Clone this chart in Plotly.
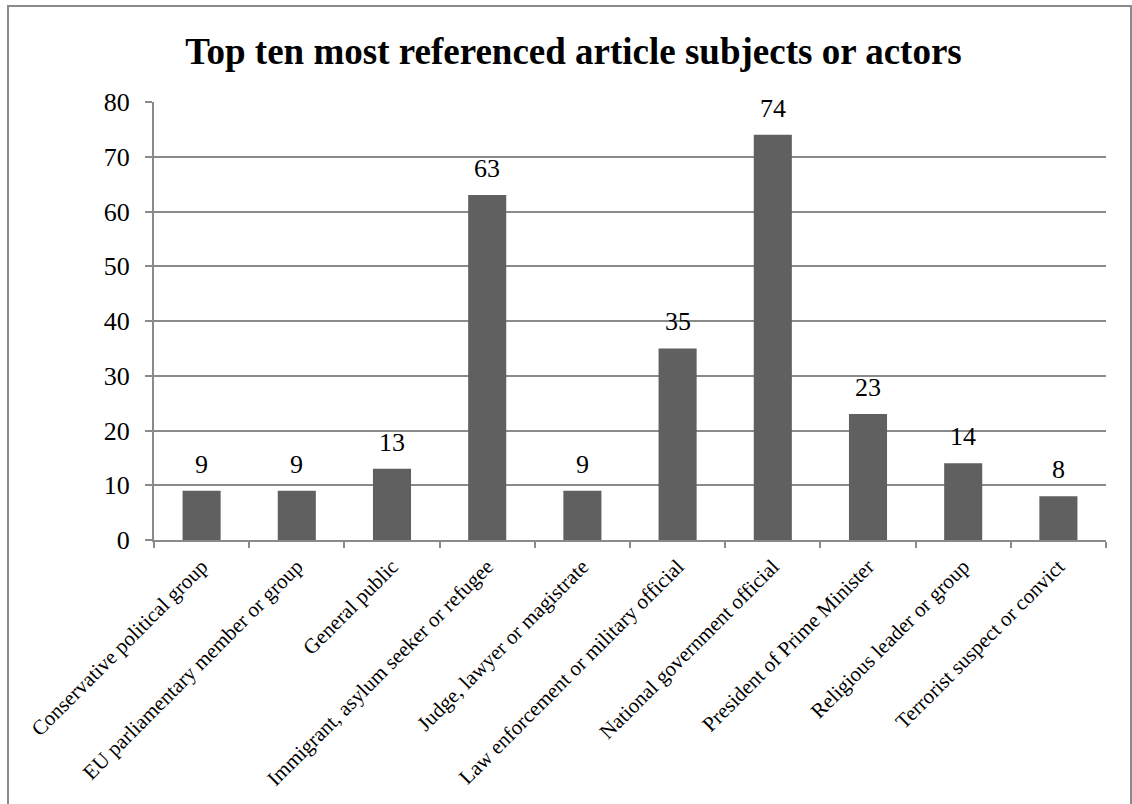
import plotly.graph_objects as go

categories = [
    "Conservative political group",
    "EU parliamentary member or group",
    "General public",
    "Immigrant, asylum seeker or refugee",
    "Judge, lawyer or magistrate",
    "Law enforcement or military official",
    "National government official",
    "President of Prime Minister",
    "Religious leader or group",
    "Terrorist suspect or convict",
]
values = [9, 9, 13, 63, 9, 35, 74, 23, 14, 8]
y_ticks = [0, 10, 20, 30, 40, 50, 60, 70, 80]
title_text = "Top ten most referenced article subjects or actors"

FONT = "Times New Roman, Liberation Serif, serif"
GRID = "#8a8a8a"
W, H = 1132, 804
L, R, T, B = 154, 26, 102, 264
pw, ph = W - L - R, H - T - B

fig = go.Figure()
fig.add_trace(go.Bar(
    x=categories, y=values,
    marker=dict(color="#606060", line=dict(width=0)),
    width=0.4,
    hoverinfo="x+y",
))

for c, v in zip(categories, values):
    fig.add_annotation(x=c, y=v, text=str(v), showarrow=False,
                       yanchor="bottom", yshift=10,
                       font=dict(family=FONT, size=26, color="black"))

def px_to_paper_x(px):
    return (px - L) / pw

def px_to_paper_y(py):
    return (H - B - py) / ph

fig.add_shape(type="rect", xref="paper", yref="paper",
              x0=px_to_paper_x(8), x1=px_to_paper_x(1131),
              y0=px_to_paper_y(810), y1=px_to_paper_y(6),
              line=dict(color="#8a8a8a", width=2), fillcolor="rgba(0,0,0,0)",
              layer="below")

fig.update_layout(
    width=W, height=H,
    margin=dict(l=L, r=R, t=T, b=B, pad=0),
    paper_bgcolor="white", plot_bgcolor="white",
    showlegend=False,
    title=dict(text="<b>" + title_text + "</b>", x=573.5 / W,
               xanchor="center", y=1 - 51 / H, yanchor="middle",
               font=dict(family=FONT, size=37, color="black")),
    font=dict(family=FONT, color="black"),
    xaxis=dict(
        type="category", tickson="boundaries", ticks="outside", ticklen=6,
        tickcolor=GRID, tickwidth=2,
        showline=True, linecolor=GRID, linewidth=2,
        showgrid=False, tickangle=-45, ticklabelstandoff=4,
        tickfont=dict(family=FONT, size=21, color="black"),
    ),
    yaxis=dict(
        range=[0, 80], tickvals=y_ticks, ticks="outside", ticklen=7,
        tickcolor=GRID, tickwidth=2,
        showline=True, linecolor=GRID, linewidth=2,
        showgrid=True, gridcolor=GRID, gridwidth=2,
        zeroline=False, ticklabelstandoff=10,
        tickfont=dict(family=FONT, size=26, color="black"),
    ),
)

fig.write_html("out.html")
